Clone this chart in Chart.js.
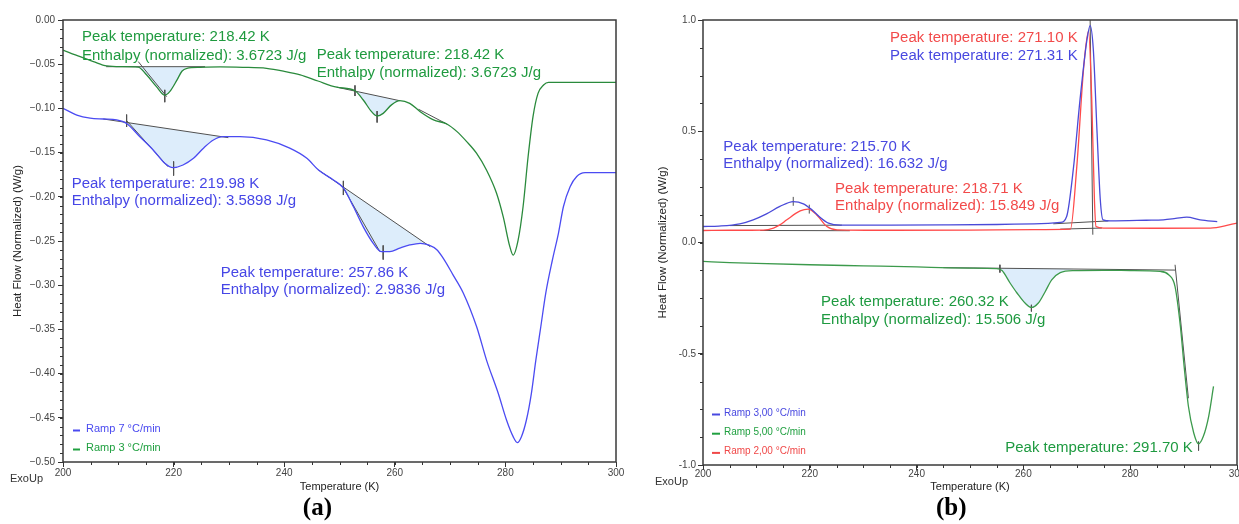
<!DOCTYPE html>
<html><head><meta charset="utf-8">
<script src="https://cdn.jsdelivr.net/npm/chart.js@4.4.0/dist/chart.umd.min.js"></script>
<style>
html,body{margin:0;padding:0;background:#fff;overflow:hidden;width:1239px;height:524px;}
#ca{position:absolute;left:0;top:0;}
#cb{position:absolute;left:640px;top:0;}
</style></head><body>
<canvas id="ca" width="640" height="524"></canvas>
<canvas id="cb" width="599" height="524"></canvas>
<script>
// ---------- Panel (a) data ----------
const tempA3 = [200,203.1,205.5,207.9,210.5,213.6,215.1,216.9,218.4,219.3,220.6,221.5,222.4,224.8,228.4,232.5,236.8,240,242.9,246.1,249.5,252.8,254.3,255.8,256.8,257.9,259.4,260.9,262.7,264.6,267.0,269.4,271.2,273.0,274.8,276.6,278.4,279.6,280.8,281.4,282.3,283.2,284.1,285.0,285.9,286.9,287.8,290,295,300];
const heatA3 = [-0.034,-0.0415,-0.047,-0.052,-0.0528,-0.0532,-0.062,-0.0754,-0.085,-0.081,-0.068,-0.058,-0.0547,-0.0535,-0.053,-0.0535,-0.0547,-0.058,-0.062,-0.069,-0.076,-0.080,-0.0905,-0.1037,-0.1086,-0.1056,-0.096,-0.0913,-0.0943,-0.1037,-0.113,-0.1176,-0.126,-0.1376,-0.151,-0.170,-0.196,-0.2225,-0.2564,-0.266,-0.249,-0.211,-0.155,-0.109,-0.083,-0.0735,-0.0705,-0.0705,-0.0705,-0.0705];
const tempA7 = [200,202.5,204.9,207.3,209.7,211.5,213.9,216.3,218.4,219.9,221.7,223.6,225.4,227.2,229.0,232,236.8,241.0,244.1,246.2,248.9,250.7,252.5,254.3,256.1,257.6,259.1,260.9,262.7,264.6,266.1,267.6,268.8,270.5,272.4,274.8,276.6,278.7,280.2,281.4,282.15,282.9,283.8,284.7,285.5,286.4,287.3,288.5,289.6,290.5,291.7,292.9,294.4,297,300];
const heatA7 = [-0.0999,-0.1075,-0.111,-0.112,-0.113,-0.117,-0.132,-0.147,-0.162,-0.167,-0.164,-0.1565,-0.145,-0.1357,-0.132,-0.132,-0.1357,-0.145,-0.1565,-0.1697,-0.181,-0.190,-0.211,-0.234,-0.2526,-0.262,-0.262,-0.258,-0.2545,-0.2526,-0.2545,-0.260,-0.270,-0.288,-0.309,-0.347,-0.385,-0.4223,-0.4525,-0.4713,-0.478,-0.4713,-0.4525,-0.4223,-0.385,-0.347,-0.309,-0.2715,-0.241,-0.211,-0.1886,-0.177,-0.1727,-0.1727,-0.1727];
// integration baselines / tangents / markers (t0, v0, t1, v1)
const guideA = [
  [207.8,-0.0528,225.7,-0.0528],[213.6,-0.047,218.75,-0.0867],[218.4,-0.079,218.4,-0.093],
  [207.3,-0.112,229.9,-0.1331],[211.5,-0.1138,219.0,-0.166],[211.5,-0.107,211.5,-0.121],[220.0,-0.160,220.0,-0.176],
  [249.5,-0.076,260.9,-0.0913],[252.8,-0.074,252.8,-0.086],[256.8,-0.103,256.8,-0.116],[264.3,-0.101,269.5,-0.118],
  [246.2,-0.1697,266.4,-0.2564],[250.7,-0.19,257.3,-0.262],[250.7,-0.182,250.7,-0.198],[257.9,-0.255,257.9,-0.271]
];
// ---------- Panel (b) data ----------
const tempB3 = [200,203,206.9,209.4,211.9,214.4,216.9,218.8,220.4,221.9,223.5,225.7,235,245,255,262,266.9,268.1,269.4,270.6,271.9,272.5,273.1,273.8,274.4,274.9,276.3,283,286.2,288.5,290.6,293.1,296.3];
const heatB3 = [0.072,0.074,0.084,0.102,0.129,0.162,0.184,0.174,0.147,0.114,0.087,0.078,0.078,0.079,0.081,0.084,0.090,0.117,0.341,0.641,0.910,0.975,0.865,0.491,0.192,0.102,0.097,0.100,0.102,0.108,0.114,0.102,0.094];
const tempB5 = [200,205,210,220,230,240,246.3,250,255.0,256.0,257.5,258.8,260.3,261.5,262.8,264.1,265.3,266.9,269.4,275,280,285.6,287.2,288.4,289.4,290.1,290.9,291.9,292.8,293.7,294.7,295.6];
const heatB5 = [-0.085,-0.090,-0.094,-0.100,-0.105,-0.110,-0.114,-0.115,-0.117,-0.126,-0.182,-0.227,-0.272,-0.292,-0.272,-0.220,-0.168,-0.135,-0.126,-0.125,-0.126,-0.130,-0.145,-0.198,-0.377,-0.557,-0.736,-0.856,-0.905,-0.871,-0.781,-0.647];
const tempB2 = [200,205,211.3,213.2,214.4,215.7,218.2,219.7,221.3,223.2,225.1,235,250,262,268.8,270.0,271.3,272.2,272.8,273.3,273.6,275.0,285,295,298.7,300];
const heatB2 = [0.054,0.055,0.056,0.065,0.079,0.102,0.142,0.150,0.124,0.072,0.057,0.055,0.056,0.058,0.060,0.341,0.790,0.950,0.641,0.192,0.072,0.065,0.064,0.065,0.080,0.087];
const guideB = [
  [205,0.076,226,0.078],[210.7,0.054,227.5,0.053],[216.9,0.165,216.9,0.205],[219.9,0.13,219.9,0.17],
  [265.6,0.084,275.9,0.097],[266.9,0.060,274.7,0.065],[272.5,1.0,273.0,0.035],
  [245,-0.113,288.4,-0.124],[288.4,-0.10,290.9,-0.70],[255.6,-0.10,255.6,-0.135],[261.5,-0.28,261.5,-0.31],[292.8,-0.895,292.8,-0.935]
];
// ---------- ticks ----------
const xTickValues = [200,220,240,260,280,300];
const xTickLabels = ['200','220','240','260','280','300'];
const yTickValuesA = [0,-0.05,-0.10,-0.15,-0.20,-0.25,-0.30,-0.35,-0.40,-0.45,-0.50];
const yTickLabelsA = ['0.00','\u22120.05','\u22120.10','\u22120.15','\u22120.20','\u22120.25','\u22120.30','\u22120.35','\u22120.40','\u22120.45','\u22120.50'];
const yTickValuesB = [1,0.5,0,-0.5,-1];
const yTickLabelsB = ['1.0','0.5','0.0','-0.5','-1.0'];

const FONT = '"Liberation Sans", Arial, sans-serif';
function pts(T,V){return T.map((t,i)=>({x:t,y:V[i]}));}
function curve(label,T,V,color,legendColor,legendPos){
  return {label,data:pts(T,V),borderColor:color,borderWidth:1.3,pointRadius:0,cubicInterpolationMode:'monotone',fill:false,isCurve:true,legendColor,legendPos};
}
function guides(list){
  return list.map(s=>({data:[{x:s[0],y:s[1]},{x:s[2],y:s[3]}],borderColor:'#505050',borderWidth:1,pointRadius:0,fill:false,tension:0}));
}
function shade(T,V,base,s0,s1){
  const [bt0,bv0,bt1,bv1]=base;
  const bl=t=>bv0+(t-bt0)/(bt1-bt0)*(bv1-bv0);
  const d=[{x:s0,y:bl(s0)}];
  T.forEach((t,i)=>{if(t>s0&&t<s1)d.push({x:t,y:V[i]});});
  d.push({x:s1,y:bl(s1)});
  return {data:d,borderColor:'rgba(0,0,0,0)',borderWidth:0,pointRadius:0,fill:'shape',backgroundColor:'rgba(212,232,250,0.8)',cubicInterpolationMode:'monotone'};
}
function findLabel(vals,labels,v){const i=vals.findIndex(a=>Math.abs(a-v)<1e-9);return i<0?'':labels[i];}

const decor = {
  id:'decor',
  afterDraw(chart){
    const o=chart.options.plugins.decor; if(!o) return;
    const {ctx,chartArea:ca,scales:{x,y}}=chart;
    ctx.save();
    // minor ticks
    ctx.strokeStyle='#333';ctx.lineWidth=1;ctx.beginPath();
    for(let t=x.min;t<=x.max+1e-9;t+=o.xMinor){const p=Math.round(x.getPixelForValue(t))+0.5;ctx.moveTo(p,ca.bottom);ctx.lineTo(p,ca.bottom+3);}
    for(let k=0;;k++){const v=y.min+k*o.yMinor;if(v>y.max+1e-9)break;const p=Math.round(y.getPixelForValue(v))+0.5;ctx.moveTo(ca.left,p);ctx.lineTo(ca.left-3,p);}
    ctx.stroke();
    // frame
    ctx.strokeStyle='#3a3a3a';ctx.lineWidth=1.5;
    ctx.strokeRect(ca.left,ca.top,ca.right-ca.left,ca.bottom-ca.top);
    // annotation texts (data coords = left / baseline)
    ctx.textBaseline='alphabetic';ctx.textAlign='left';
    for(const n of o.notes){
      ctx.fillStyle=n.color;ctx.font=o.noteFont;
      ctx.save();ctx.translate(x.getPixelForValue(n.x),y.getPixelForValue(n.y));ctx.scale(1,o.squash);ctx.fillText(n.text,0,0);ctx.restore();
    }
    // legend
    ctx.font=o.legendFont;ctx.textBaseline='middle';
    chart.data.datasets.filter(d=>d.isCurve).sort((a,b)=>a.legendPos-b.legendPos).forEach((d,i)=>{
      const cy=ca.bottom-o.legendBottom+i*o.legendGap;
      ctx.strokeStyle=d.legendColor;ctx.lineWidth=2;ctx.beginPath();
      ctx.moveTo(ca.left+o.legendDash[0],cy+1.5);ctx.lineTo(ca.left+o.legendDash[1],cy+1.5);ctx.stroke();
      ctx.fillStyle=d.legendColor;ctx.fillText(d.label,ca.left+o.legendText,cy);
    });
    // ExoUp
    ctx.fillStyle='#333';ctx.font=o.exoFont;ctx.textBaseline='middle';
    ctx.fillText('ExoUp',ca.left+o.exo[0],ca.bottom+o.exo[1]);
    // panel letter
    ctx.font='bold 25px "Liberation Serif", "Times New Roman", serif';ctx.textAlign='center';ctx.fillStyle='#000';
    ctx.fillText(o.letter,x.getPixelForValue(o.letterX),ca.bottom+o.letterDy);
    ctx.restore();
  }
};

function makeOptions(cfg){
  return {
    responsive:false,animation:false,events:[],
    layout:{padding:cfg.padding},
    plugins:{legend:{display:false},tooltip:{enabled:false},decor:cfg.decor},
    scales:{
      x:{type:'linear',min:200,max:300,
        afterFit(s){s.height=cfg.xHeight;s.paddingLeft=0;s.paddingRight=0;},
        afterBuildTicks(s){s.ticks=xTickValues.map(v=>({value:v}));},
        ticks:{autoSkip:false,maxRotation:0,padding:cfg.xPad,color:'#444',font:{family:FONT,size:10},callback:v=>findLabel(xTickValues,xTickLabels,v)},
        grid:{display:true,drawOnChartArea:false,drawTicks:true,tickLength:5,tickColor:'#333',color:'#333'},
        border:{display:false},
        title:{display:true,text:'Temperature (K)',color:'#222',font:{family:FONT,size:11},padding:{top:0,bottom:0}}
      },
      y:{type:'linear',min:cfg.yMin,max:cfg.yMax,
        afterFit(s){s.width=63;s.paddingTop=0;s.paddingBottom=0;},
        afterBuildTicks(s){s.ticks=cfg.yVals.map(v=>({value:v}));},
        ticks:{autoSkip:false,padding:cfg.yPad,color:'#444',font:{family:FONT,size:10},callback:v=>findLabel(cfg.yVals,cfg.yLabels,v)},
        grid:{display:true,drawOnChartArea:false,drawTicks:true,tickLength:5,tickColor:'#333',color:'#333'},
        border:{display:false},
        title:{display:true,text:'Heat Flow (Normalized) (W/g)',color:'#222',font:{family:FONT,size:11.5},padding:{top:cfg.yTitlePad,bottom:0}}
      }
    }
  };
}

// ---------- Chart (a) ----------
const GA='#2a8a3c', BA='#4b4bf2';
new Chart(document.getElementById('ca'),{
  type:'line',
  plugins:[decor],
  data:{datasets:[
    curve('Ramp 7 \u00b0C/min',tempA7,heatA7,BA,'#4a4af0',0),
    curve('Ramp 3 \u00b0C/min',tempA3,heatA3,GA,'#20a040',1),
    ...guides(guideA),
    shade(tempA3,heatA3,[207.8,-0.0528,225.7,-0.0528],213.6,222.4),
    shade(tempA7,heatA7,[207.3,-0.112,229.9,-0.1331],211.5,229.9),
    shade(tempA3,heatA3,[249.5,-0.076,260.9,-0.0913],252.8,260.9),
    shade(tempA7,heatA7,[246.2,-0.1697,266.4,-0.2564],250.7,266.1)
  ]},
  options:makeOptions({
    padding:{left:0,right:24,top:20,bottom:30},xHeight:32,xPad:0,yPad:3,yTitlePad:11,
    yMin:-0.5,yMax:0,yVals:yTickValuesA,yLabels:yTickLabelsA,
    decor:{xMinor:5,yMinor:0.01,noteFont:'15px '+FONT,squash:0.93,
      legendFont:'11px '+FONT,legendBottom:33,legendGap:19,legendDash:[10,17],legendText:23,
      exoFont:'11px '+FONT,exo:[-53,17],letter:'(a)',letterX:246,letterDy:47,
      notes:[
        {x:203.44,y:-0.0241,text:'Peak temperature: 218.42 K',color:'#1f9a3f'},
        {x:203.44,y:-0.0452,text:'Enthalpy (normalized): 3.6723 J/g',color:'#1f9a3f'},
        {x:245.88,y:-0.0438,text:'Peak temperature: 218.42 K',color:'#1f9a3f'},
        {x:245.88,y:-0.0648,text:'Enthalpy (normalized): 3.6723 J/g',color:'#1f9a3f'},
        {x:201.57,y:-0.1897,text:'Peak temperature: 219.98 K',color:'#4646e6'},
        {x:201.57,y:-0.2093,text:'Enthalpy (normalized): 3.5898 J/g',color:'#4646e6'},
        {x:228.52,y:-0.2904,text:'Peak temperature: 257.86 K',color:'#4646e6'},
        {x:228.52,y:-0.3103,text:'Enthalpy (normalized): 2.9836 J/g',color:'#4646e6'}
      ]}
  })
});

// ---------- Chart (b) ----------
new Chart(document.getElementById('cb'),{
  type:'line',
  plugins:[decor],
  data:{datasets:[
    curve('Ramp 3,00 \u00b0C/min',tempB3,heatB3,'#4a4ad8','#4848e0',0),
    curve('Ramp 2,00 \u00b0C/min',tempB2,heatB2,'#ff4a4a','#f04848',2),
    curve('Ramp 5,00 \u00b0C/min',tempB5,heatB5,'#3c9a4c','#20a040',1),
    ...guides(guideB),
    shade(tempB5,heatB5,[245,-0.113,288.4,-0.124],255.0,269.4)
  ]},
  options:makeOptions({
    padding:{left:0,right:2,top:20,bottom:30},xHeight:29,xPad:-2,yPad:2,yTitlePad:16,
    yMin:-1,yMax:1,yVals:yTickValuesB,yLabels:yTickLabelsB,
    decor:{xMinor:5,yMinor:0.125,noteFont:'15px '+FONT,squash:0.93,
      legendFont:'10px '+FONT,legendBottom:52,legendGap:19.2,legendDash:[9,17],legendText:21,
      exoFont:'11px '+FONT,exo:[-48,17],letter:'(b)',letterX:246.5,letterDy:44,
      notes:[
        {x:235.04,y:0.900,text:'Peak temperature: 271.10 K',color:'#f24a4a'},
        {x:235.04,y:0.820,text:'Peak temperature: 271.31 K',color:'#4848e0'},
        {x:203.80,y:0.413,text:'Peak temperature: 215.70 K',color:'#4848e0'},
        {x:203.80,y:0.334,text:'Enthalpy (normalized): 16.632 J/g',color:'#4848e0'},
        {x:224.73,y:0.2245,text:'Peak temperature: 218.71 K',color:'#f24a4a'},
        {x:224.73,y:0.147,text:'Enthalpy (normalized): 15.849 J/g',color:'#f24a4a'},
        {x:222.11,y:-0.287,text:'Peak temperature: 260.32 K',color:'#1e9a40'},
        {x:222.11,y:-0.366,text:'Enthalpy (normalized): 15.506 J/g',color:'#1e9a40'},
        {x:256.59,y:-0.943,text:'Peak temperature: 291.70 K',color:'#1e9a40'}
      ]}
  })
});
</script>
</body></html>
